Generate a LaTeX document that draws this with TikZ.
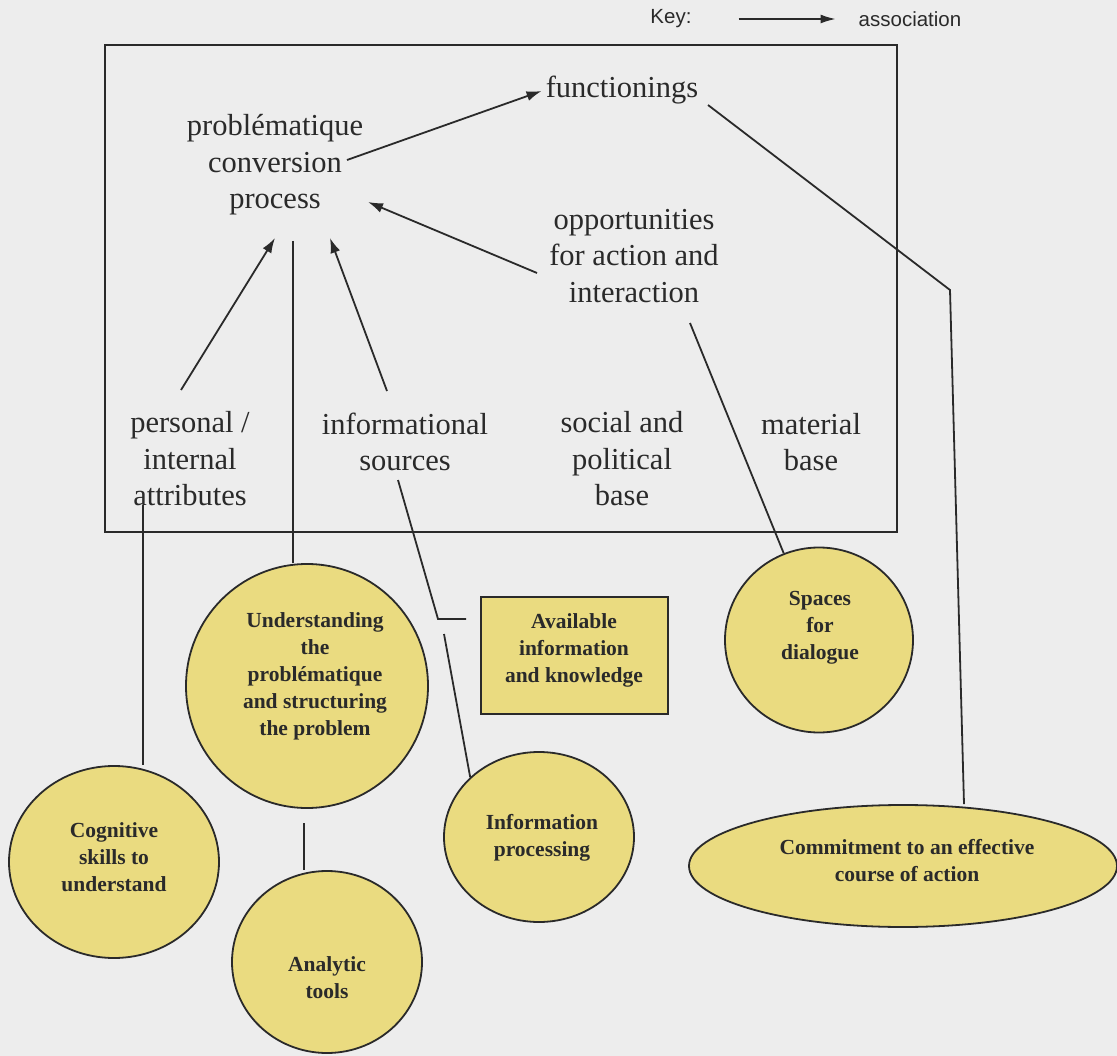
\documentclass[tikz,border=0pt]{standalone}
\usepackage{fontspec}
\setmainfont{Liberation Serif}
\newfontfamily\keyfont{Liberation Sans}
\usetikzlibrary{arrows.meta,shapes.geometric}
\definecolor{paper}{RGB}{237,237,237}
\definecolor{ink}{RGB}{42,42,42}
\definecolor{sand}{RGB}{234,219,128}
\pgfdeclarelayer{paperlayer}
\pgfdeclarelayer{wires}
\pgfsetlayers{paperlayer,wires,main}
\begin{document}
\begin{tikzpicture}[x=1pt,y=-1pt,
  lbl/.style={text=ink, align=center, inner sep=0pt, font=\fontsize{30.5}{36.5}\selectfont},
  blbl/.style={text=ink, align=center, inner sep=0pt, font=\fontsize{21.5}{27}\selectfont\bfseries},
  keyt/.style={text=ink, inner sep=0pt, font=\keyfont\fontsize{20.5}{24}\selectfont},
  blob/.style={ellipse, draw=ink, fill=sand, line width=1.8pt, inner sep=0pt},
  wire/.style={draw=ink, line width=1.8pt},
  assoc/.style={wire, -{Latex[length=15pt,width=10pt]}},
]
% paper and page size
\begin{pgfonlayer}{paperlayer}
  \fill[paper] (0,0) rectangle (1117,1056);
\end{pgfonlayer}
\useasboundingbox (0,0) rectangle (1117,1056);

% key
\node[keyt] (key) at (671,19) {Key:};
\node[keyt] (asc) at (910,19) {association};

% frame and its labels
\node[draw=ink, line width=2pt, minimum width=792pt, minimum height=487pt, inner sep=0pt] (frame) at (501,288.5) {};
\node[lbl] (func) at (622,90) {functionings};
\node[lbl] (conv) at (275,165) {problématique\\conversion\\process};
\node[lbl] (opp) at (634,256) {opportunities\\for action and\\interaction};
\node[lbl] (pers) at (190,459) {personal /\\internal\\attributes};
\node[lbl] (infs) at (405,442) {informational\\sources};
\node[lbl] (soc) at (622,459) {social and\\political\\base};
\node[lbl] (mat) at (811,442) {material\\base};

% shapes below the frame
\node[blob, minimum width=242pt, minimum height=244pt] (under) at (307,686) {};
\node[blbl] (underT) at (315,676) {Understanding\\the\\problématique\\and structuring\\the problem};
\node[blob, minimum width=210pt, minimum height=192pt] (cog) at (114,862) {};
\node[blbl] (cogT) at (114,857) {Cognitive\\skills to\\understand};
\node[blob, minimum width=190pt, minimum height=182pt] (ana) at (327,962) {};
\node[blbl] (anaT) at (327,978) {Analytic\\tools};
\node[blob, minimum width=190pt, minimum height=170pt] (proc) at (539,837) {};
\node[blbl] (procT) at (542,838) {Information\\processing};
\node[blob, minimum width=188pt, minimum height=185pt] (spaces) at (819,640) {};
\node[blbl] (spacesT) at (820,628) {Spaces\\for\\dialogue};
\node[blob, minimum width=428pt, minimum height=122pt] (commit) at (903,866) {};
\node[blbl] (commitT) at (907,861) {Commitment to an effective\\course of action};
\node[draw=ink, fill=sand, line width=2pt, minimum width=187pt, minimum height=117pt, inner sep=0pt] (avail) at (574.5,655.5) {};
\node[blbl] (availT) at (574,650) {Available\\information\\and knowledge};

% connector end points
\coordinate (convR) at (347,160);
\coordinate (convE) at (368,202);
\coordinate (oppL) at (537,273);
\coordinate (persT) at (181,390);
\coordinate (convS1) at (275,238);
\coordinate (infT) at (387,391);
\coordinate (convS2) at (330,238);
\coordinate (convS0) at (293,241);
\coordinate (attrB) at (143,505);
\coordinate (infB) at (398,480);
\coordinate (elb) at (438,619);
\coordinate (elbEnd) at (466,619);
\coordinate (procTop) at (444,634);
\coordinate (oppB) at (690,323);
\coordinate (funcR) at (708,105);
\coordinate (fb) at (950,290);
\coordinate (anaTop) at (304,823);

\begin{pgfonlayer}{wires}
  \draw[wire, line width=1.4pt, -{Latex[length=15pt,width=9pt]}] ([xshift=47pt]key.east) -- ([xshift=-23pt]asc.west);
  \draw[assoc] (convR) -- ([xshift=-4pt,yshift=-1pt]func.west);
  \draw[assoc] (oppL) -- (convE);
  \draw[assoc] (persT) -- (convS1);
  \draw[assoc] (infT) -- (convS2);
  \draw[wire] (convS0) -- (convS0 |- under.north);
  \draw[wire] (attrB) -- (attrB |- cog.north);
  \draw[wire] (infB) -- (elb) -- (elbEnd);
  \draw[wire] (procTop) -- (proc.139);
  \draw[wire] (oppB) -- (spaces);
  \draw[wire] (funcR) -- (fb) -- ([xshift=61pt]commit.north);
  \draw[wire] (anaTop) -- (anaTop |- ana.north);
\end{pgfonlayer}
\end{tikzpicture}
\end{document}
